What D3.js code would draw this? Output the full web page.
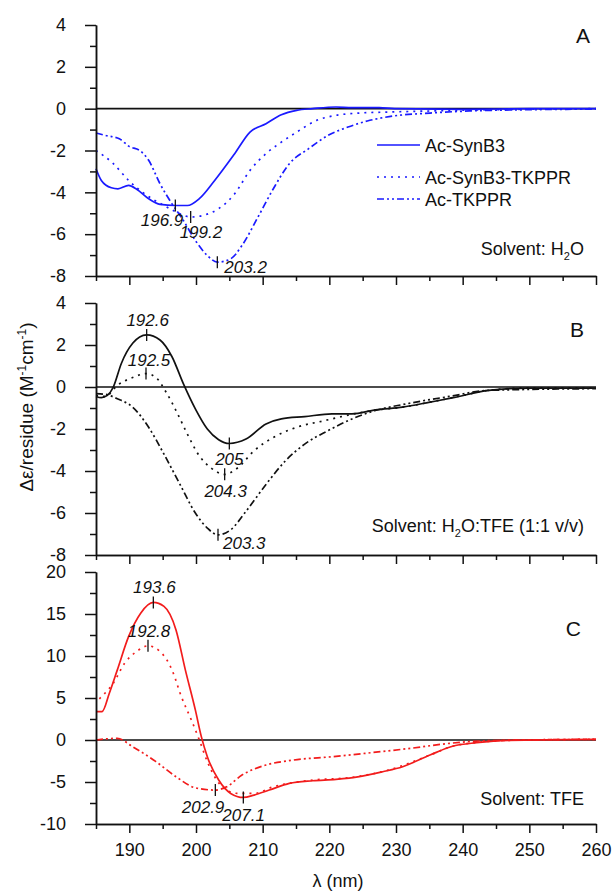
<!DOCTYPE html>
<html>
<head>
<meta charset="utf-8">
<script src="https://cdn.jsdelivr.net/npm/d3@7"></script>
<style>
  body { margin: 0; background: #fff; }
  text { font-family: "Liberation Sans", Arial, sans-serif; fill: #111; }
</style>
</head>
<body>
<svg id="svg" width="613" height="892"></svg>
<script>
// --- data ---
const seriesNames = ['Ac-SynB3', 'Ac-SynB3-TKPPR', 'Ac-TKPPR'];
const waveMajor = [190, 200, 210, 220, 230, 240, 250, 260];
const waveMinor = [185, 195, 205, 215, 225, 235, 245, 255];
const ticksAB = [-8, -6, -4, -2, 0, 2, 4];
const minorAB = [-7, -5, -3, -1, 1, 3];
const ticksC = [-10, -5, 0, 5, 10, 15, 20];
const minorC = [-7.5, -2.5, 2.5, 7.5, 12.5, 17.5];

// panel A : H2O
const synB3A = [[185,-2.87],[185.8,-3.43],[187.3,-3.78],[188.3,-3.83],[189.9,-3.67],[191.1,-3.85],[192.9,-4.31],[194.6,-4.58],[196.9,-4.63],[198.7,-4.63],[200.5,-4.3],[202.8,-3.43],[205.8,-2.15],[208.1,-1.12],[210.5,-0.72],[212.8,-0.29],[215.1,-0.08],[217.5,0],[221,0.08],[223.4,0.05],[227.5,0.05],[229.8,0],[240,-0.03],[250,0],[260,0]];
const synB3TkA = [[185,-2.0],[187.6,-2.63],[189.9,-3.43],[192.3,-4.07],[195.2,-4.63],[197.6,-5.02],[199.2,-5.18],[201.1,-5.1],[203.4,-4.78],[205.8,-4.07],[208.1,-2.95],[210.5,-2.15],[212.8,-1.6],[215.1,-1.12],[218.1,-0.56],[221,-0.32],[224.5,-0.21],[229.2,-0.16],[235.1,-0.11],[243.9,-0.05],[260,0]];
const tkpprA = [[185,-1.16],[186.4,-1.28],[188.5,-1.44],[189.9,-1.79],[191.7,-2.03],[192.9,-2.47],[194.6,-3.59],[196.4,-4.55],[198.1,-5.34],[199.9,-6.3],[201.7,-7.02],[203.2,-7.34],[205.2,-7.18],[206.9,-6.54],[209.3,-5.18],[211.6,-3.83],[214,-2.63],[216.9,-1.91],[219.8,-1.28],[222.8,-0.88],[225.7,-0.59],[229.2,-0.37],[235.1,-0.21],[241,-0.11],[249.8,-0.05],[260,-0.02]];
const peaksA = [[196.9,-4.63,'196.9'],[199.2,-5.18,'199.2'],[203.2,-7.34,'203.2']];

// panel B : H2O:TFE 1:1
const synB3B = [[185,-0.45],[185.8,-0.51],[186.7,-0.4],[187.6,0],[188.8,1.12],[190.5,2.08],[192.6,2.48],[194.6,2.24],[196.4,1.44],[198.1,0.16],[199.9,-1.04],[201.7,-2.0],[203.4,-2.51],[205,-2.69],[207.5,-2.48],[210.5,-1.76],[212.8,-1.52],[216.3,-1.41],[220.4,-1.28],[223.4,-1.28],[226.9,-1.09],[231,-0.96],[235.1,-0.72],[238.6,-0.51],[243.9,-0.16],[249.8,-0.05],[260,-0.05]];
const synB3TkB = [[185,-0.4],[186.4,-0.45],[188.2,0.08],[190.5,0.45],[192.5,0.64],[194,0.45],[195.5,-0.24],[197,-1.12],[198.7,-2.24],[200.5,-3.28],[202.2,-3.84],[204.3,-4.16],[206.3,-3.84],[208.7,-3.04],[211.6,-2.4],[215.1,-1.92],[219.3,-1.6],[223.4,-1.3],[226.9,-1.1],[231,-0.96],[235.1,-0.72],[238.6,-0.5],[243.9,-0.16],[249.8,-0.05],[260,-0.05]];
const tkpprB = [[185,-0.32],[186.4,-0.35],[188.2,-0.56],[190.5,-0.96],[192.9,-1.92],[195.2,-3.2],[197.6,-4.64],[199.9,-6.0],[201.7,-6.72],[203.3,-7.04],[205.2,-6.8],[207.5,-5.92],[210.5,-4.64],[213.4,-3.52],[216.3,-2.72],[219.8,-2.08],[223.4,-1.52],[226.9,-1.12],[231.6,-0.8],[238,-0.45],[243.9,-0.16],[260,-0.08]];
const peaksB = [[192.6,2.48,'192.6'],[192.5,0.64,'192.5'],[205,-2.69,'205'],[204.3,-4.16,'204.3'],[203.3,-7.04,'203.3']];

// panel C : TFE
const synB3C = [[185,3.38],[185.9,3.38],[187,5.57],[188.2,8.35],[189.9,12.33],[191.7,15.1],[193.6,16.38],[195.2,15.9],[197,13.1],[198.4,8.35],[199.9,3.58],[200.8,0.4],[201.7,-1.99],[203.4,-4.77],[205.2,-6.36],[207.1,-6.84],[208.7,-6.56],[211,-5.96],[214,-5.17],[217.5,-4.85],[221,-4.69],[224.5,-4.37],[228,-3.78],[231,-3.18],[235.1,-1.79],[238.6,-0.72],[242.1,-0.32],[246.8,-0.04],[260,0.08]];
const synB3TkC = [[185.5,4.9],[186.1,5.37],[187.6,6.76],[189.3,9.15],[191.1,10.54],[192.8,11.21],[194.6,10.54],[196.4,8.35],[197.8,5.17],[199.3,2.39],[200.5,0],[201.7,-2.58],[203.1,-4.77],[204.6,-5.96],[206.3,-6.36],[208.7,-6.36],[211.6,-5.57],[217.5,-4.77],[223.4,-4.45],[229.2,-3.5],[235.1,-1.79],[238.6,-0.72],[242.1,-0.3],[246.8,-0.04],[260,0.08]];
const tkpprC = [[185,0],[188.2,0.2],[190.5,-0.8],[194,-2.58],[197,-4.37],[199.9,-5.69],[202.9,-5.96],[204.6,-5.57],[206.9,-4.17],[210.5,-2.98],[214.6,-2.39],[220.4,-1.99],[226.3,-1.51],[232.2,-0.99],[238,-0.4],[243.9,-0.08],[260,0.08]];
const peaksC = [[193.6,16.38,'193.6'],[192.8,11.21,'192.8'],[202.9,-5.96,'202.9'],[207.1,-6.84,'207.1']];

// --- layout ---
const svg = d3.select('#svg');
const x = d3.scaleLinear().domain([185, 260]).range([96, 596]);
const dashes = [null, '2,5', '7,3,2,3,2,3'];

// label placement for each peak marker: [dx, dy, anchor]
const peakLabelPos = {
  A: [[8, 20, 'end'], [-11, 21, 'start'], [7, 11, 'start']],
  B: [[1, -9, 'middle'], [3, -8, 'middle'], [0, 22, 'middle'], [1, 23, 'middle'], [5, 14, 'start']],
  C: [[1, -9, 'middle'], [1, -9, 'middle'], [9, 23, 'end'], [-21, 24, 'start']]
};

const panels = [
  {id: 'A', series: [synB3A, synB3TkA, tkpprA], peaks: peaksA, domain: [-8, 4], range: [276, 25],
   ticks: ticksAB, minor: minorAB, color: '#1a1aff', solvent: ['Solvent: H', '2', 'O'], solventY: 255,
   letter: [590, 43], labels: false},
  {id: 'B', series: [synB3B, synB3TkB, tkpprB], peaks: peaksB, domain: [-8, 4], range: [555, 303],
   ticks: ticksAB, minor: minorAB, color: '#111', solvent: ['Solvent: H', '2', 'O:TFE (1:1 v/v)'], solventY: 532,
   letter: [584, 337], labels: false},
  {id: 'C', series: [synB3C, synB3TkC, tkpprC], peaks: peaksC, domain: [-10, 20], range: [824, 572],
   ticks: ticksC, minor: minorC, color: '#f21c1c', solvent: ['Solvent: TFE'], solventY: 805,
   letter: [581, 636], labels: true}
];

panels.forEach(p => {
  const y = d3.scaleLinear().domain(p.domain).range(p.range);
  const g = svg.append('g');
  const bottom = p.range[0];

  // zero line
  g.append('line').
  attr('x1', x(185)).attr('x2', x(260)).
  attr('y1', y(0)).attr('y2', y(0)).
  attr('stroke', '#111').attr('stroke-width', 1.6);

  // curves
  const line = d3.line().x(d => x(d[0])).y(d => y(d[1])).curve(d3.curveMonotoneX);
  g.selectAll('path.curve').
  data(p.series).
  enter().
  append('path').
  attr('class', 'curve').
  attr('d', line).
  attr('fill', 'none').
  attr('stroke', p.color).
  attr('stroke-width', 1.7).
  attr('stroke-dasharray', (d, i) => dashes[i]);

  // axes
  const styleAxis = sel => {
    sel.selectAll('path, line').attr('stroke', '#111').attr('stroke-width', 1.5);
    sel.selectAll('text').attr('font-size', 18).attr('fill', '#111').
    attr('font-family', '"Liberation Sans", Arial, sans-serif');
  };

  g.append('g').
  attr('transform', `translate(0,${bottom})`).
  call(d3.axisBottom(x).tickValues(waveMinor).tickSize(5).tickSizeOuter(0).tickFormat('')).
  call(styleAxis);
  g.append('g').
  attr('transform', `translate(0,${bottom})`).
  call(d3.axisBottom(x).tickValues(waveMajor).tickSize(9).tickSizeOuter(0).tickPadding(10).
  tickFormat(d => p.labels ? d : '')).
  call(styleAxis);

  g.append('g').
  attr('transform', `translate(${x(185)},0)`).
  call(d3.axisLeft(y).tickValues(p.minor).tickSize(6).tickSizeOuter(0).tickFormat('')).
  call(styleAxis);
  g.append('g').
  attr('transform', `translate(${x(185)},0)`).
  call(d3.axisLeft(y).tickValues(p.ticks).tickSize(11).tickSizeOuter(0).tickPadding(19).tickFormat(d => String(d))).
  call(styleAxis);

  // peak markers
  const pos = peakLabelPos[p.id];
  p.peaks.forEach((d, i) => {
    const px = x(d[0]), py = y(d[1]);
    g.append('line').
    attr('x1', px).attr('x2', px).attr('y1', py - 6).attr('y2', py + 6).
    attr('stroke', '#111').attr('stroke-width', 1.3);
    g.append('text').
    attr('x', px + pos[i][0]).attr('y', py + pos[i][1]).
    attr('text-anchor', pos[i][2]).
    attr('font-size', 17).attr('font-style', 'italic').
    text(d[2]);
  });

  // panel letter
  g.append('text').
  attr('x', p.letter[0]).attr('y', p.letter[1]).
  attr('text-anchor', 'end').attr('font-size', 21).
  text(p.id);

  // solvent note
  const s = g.append('text').
  attr('x', 584).attr('y', p.solventY).
  attr('text-anchor', 'end').attr('font-size', 18);
  s.append('tspan').text(p.solvent[0]);
  if (p.solvent.length > 1) {
    s.append('tspan').attr('font-size', 11).attr('dy', 5).text(p.solvent[1]);
    s.append('tspan').attr('dy', -5).text(p.solvent[2]);
  }
});

// legend (panel A)
const legend = svg.append('g');
[145, 177, 199].forEach((ly, i) => {
  legend.append('line').
  attr('x1', 377).attr('x2', 420).attr('y1', ly).attr('y2', ly).
  attr('stroke', '#1a1aff').attr('stroke-width', 1.7).
  attr('stroke-dasharray', dashes[i]);
  legend.append('text').
  attr('x', 425).attr('y', ly + 6.5).
  attr('font-size', 18).
  text(seriesNames[i]);
});

// axis titles
const yt = svg.append('text').
attr('transform', 'translate(33,407) rotate(-90)').
attr('text-anchor', 'middle').attr('font-size', 19);
yt.append('tspan').text('Δε/residue (M');
yt.append('tspan').attr('font-size', 12).attr('dy', -7).text('-1');
yt.append('tspan').attr('dy', 7).text('cm');
yt.append('tspan').attr('font-size', 12).attr('dy', -7).text('-1');
yt.append('tspan').attr('dy', 7).text(')');

svg.append('text').
attr('x', 338).attr('y', 887).
attr('text-anchor', 'middle').attr('font-size', 18).
text('λ (nm)');
</script>
</body>
</html>
